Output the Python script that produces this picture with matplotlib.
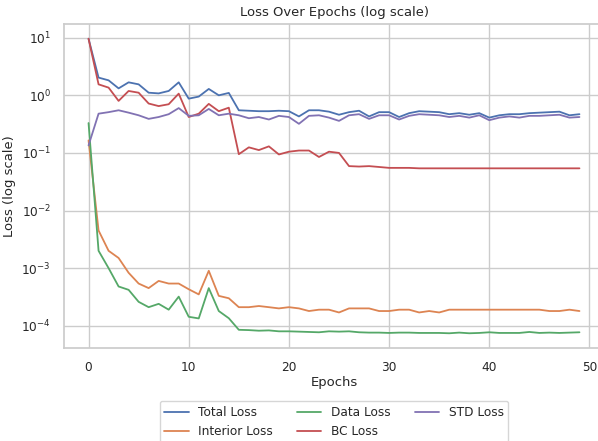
import matplotlib
matplotlib.use("Agg")
import matplotlib.pyplot as plt
import numpy as np
import seaborn as sns

epochs = np.arange(50)

total_loss = [9.6, 2.03, 1.82, 1.32, 1.68, 1.55, 1.11, 1.08, 1.19, 1.68,
              0.875, 0.95, 1.29, 1.0, 1.1, 0.55, 0.54, 0.53, 0.53, 0.54,
              0.53, 0.43, 0.55, 0.55, 0.52, 0.46, 0.51, 0.54, 0.43, 0.51,
              0.51, 0.42, 0.49, 0.53, 0.52, 0.51, 0.47, 0.49, 0.46, 0.49,
              0.41, 0.45, 0.47, 0.47, 0.49, 0.50, 0.51, 0.52, 0.45, 0.47]

interior_loss = [0.165, 0.0045, 0.0020, 0.0015, 0.00083, 0.00054, 0.00045, 0.0006, 0.00054, 0.00054,
                 0.00043, 0.00035, 0.00090, 0.00033, 0.0003, 0.00021, 0.00021, 0.00022, 0.00021, 0.0002,
                 0.00021, 0.0002, 0.00018, 0.00019, 0.00019, 0.00017, 0.0002, 0.0002, 0.0002, 0.00018,
                 0.00018, 0.00019, 0.00019, 0.00017, 0.00018, 0.00017, 0.00019, 0.00019, 0.00019, 0.00019,
                 0.00019, 0.00019, 0.00019, 0.00019, 0.00019, 0.00019, 0.00018, 0.00018, 0.00019, 0.00018]

data_loss = [0.33, 0.0020, 0.001, 0.00048, 0.00042, 0.00026, 0.00021, 0.00024, 0.00019, 0.00032,
             0.000143, 0.000134, 0.00045, 0.00018, 0.000135, 0.000085, 0.000084, 0.000082, 0.000083, 0.00008,
             0.00008, 0.000079, 0.000078, 0.000077, 0.00008, 0.000079, 0.00008, 0.000077, 0.000076, 0.000076,
             0.000075, 0.000076, 0.000076, 0.000075, 0.000075, 0.000075, 0.000074, 0.000076, 0.000074, 0.000075,
             0.000077, 0.000075, 0.000075, 0.000075, 0.000078, 0.000075, 0.000076, 0.000075, 0.000076, 0.000077]

bc_loss = [9.6, 1.55, 1.36, 0.8, 1.19, 1.11, 0.72, 0.65, 0.70, 1.07,
           0.42, 0.48, 0.71, 0.53, 0.61, 0.095, 0.125, 0.112, 0.13, 0.094,
           0.105, 0.11, 0.11, 0.085, 0.105, 0.10, 0.059, 0.058, 0.059, 0.057,
           0.055, 0.055, 0.055, 0.054, 0.054, 0.054, 0.054, 0.054, 0.054, 0.054,
           0.054, 0.054, 0.054, 0.054, 0.054, 0.054, 0.054, 0.054, 0.054, 0.054]

std_loss = [0.135, 0.48, 0.51, 0.55, 0.50, 0.45, 0.39, 0.42, 0.47, 0.60,
            0.44, 0.45, 0.58, 0.45, 0.48, 0.45, 0.40, 0.42, 0.38, 0.44,
            0.42, 0.32, 0.44, 0.45, 0.41, 0.36, 0.45, 0.47, 0.39, 0.45,
            0.45, 0.38, 0.44, 0.47, 0.46, 0.45, 0.42, 0.44, 0.41, 0.45,
            0.37, 0.41, 0.43, 0.41, 0.44, 0.44, 0.45, 0.46, 0.41, 0.42]

sns.set_theme(style="whitegrid", font_scale=0.79)
plt.rcParams["font.family"] = ["DejaVu Sans"]

fig = plt.figure(figsize=(5.98, 4.41), dpi=100)
# axes run a little past the right edge, as in the cropped original
ax = fig.add_axes([64 / 598, 93 / 441, 540 / 598, 324 / 441])

lw = 1.3
ax.plot(epochs, total_loss, label="Total Loss", linewidth=lw)
ax.plot(epochs, interior_loss, label="Interior Loss", linewidth=lw)
ax.plot(epochs, data_loss, label="Data Loss", linewidth=lw)
ax.plot(epochs, bc_loss, label="BC Loss", linewidth=lw)
ax.plot(epochs, std_loss, label="STD Loss", linewidth=lw)

ax.set_yscale("log")
ax.set_title("Loss Over Epochs (log scale)")
ax.set_xlabel("Epochs", labelpad=1.5)
ax.set_ylabel("Loss (log scale)")
ax.legend(loc="upper center", bbox_to_anchor=(0.5, -0.145), ncol=3, fontsize=8.7)

fig.savefig("out.png", dpi=100)
